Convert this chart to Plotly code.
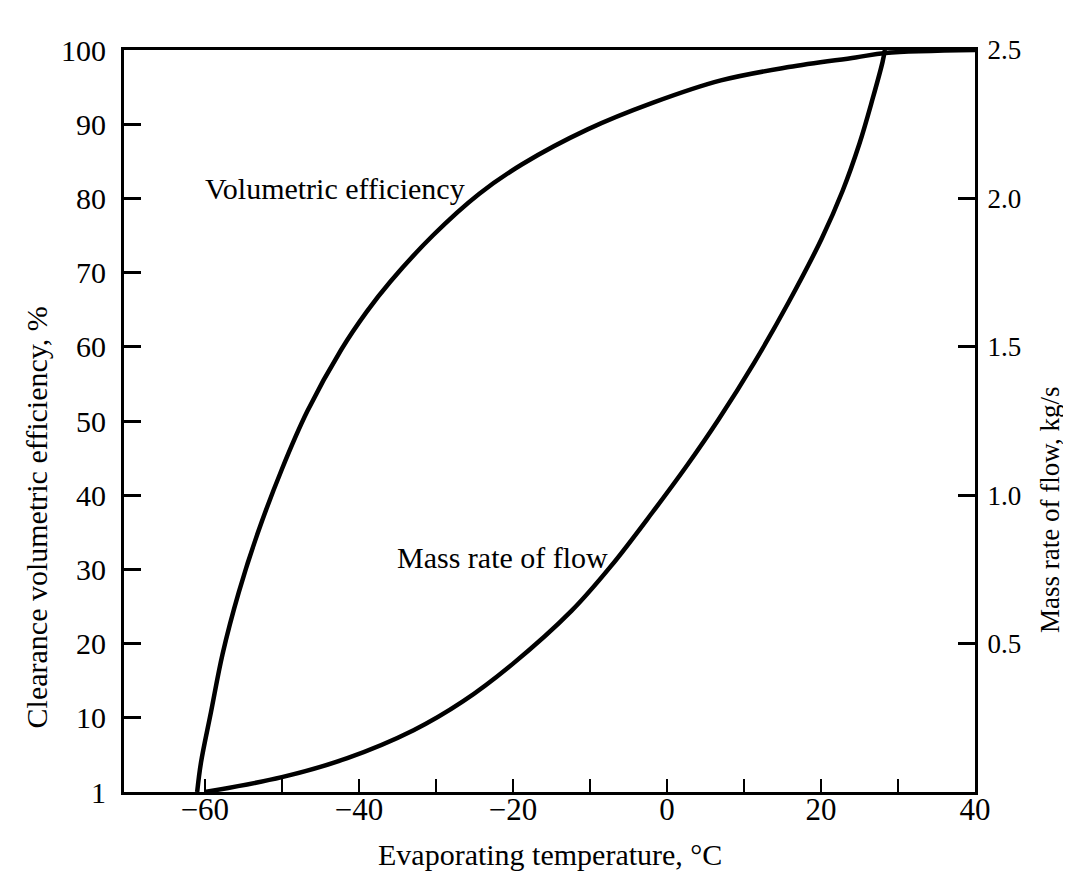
import plotly.graph_objects as go

# ---- data ----
temp_vol = [-61.0, -60.5, -59.2, -57.7, -55.6, -53.1, -50.0, -46.7, -42.3, -39.0,
            -35.9, -30.4, -24.4, -18.8, -10.3, -1.8, 7.0, 15.8, 24.5, 28.4, 40.0]
vol_eff = [0.0, 4.0, 10.8, 18.6, 26.9, 35.0, 43.5, 51.3, 59.6, 64.7,
           68.8, 75.0, 80.6, 84.6, 89.3, 92.9, 95.9, 97.7, 99.0, 99.6, 100.0]

temp_mass = [-60.0, -50.0, -41.5, -32.9, -26.5, -20.1, -12.4, -7.3, -1.8, 2.6,
             6.7, 11.3, 15.8, 20.1, 22.8, 25.0, 26.7, 28.0, 28.3]
mass_flow = [0.0, 0.05, 0.114, 0.208, 0.305, 0.430, 0.610, 0.760, 0.945, 1.100,
             1.255, 1.445, 1.650, 1.865, 2.025, 2.185, 2.335, 2.460, 2.5]

x_tick_vals = [-60, -50, -40, -30, -20, -10, 0, 10, 20, 30, 40]
x_tick_text = ["\u221260", "", "\u221240", "", "\u221220", "", "0", "", "20", "", "40"]
y_tick_vals = [0, 10, 20, 30, 40, 50, 60, 70, 80, 90, 100]
y_tick_text = ["1", "10", "20", "30", "40", "50", "60", "70", "80", "90", "100"]
y2_tick_vals = [0.5, 1.0, 1.5, 2.0, 2.5]
y2_tick_text = ["0.5", "1.0", "1.5", "2.0", "2.5"]

FONT = "Liberation Serif"
fig = go.Figure()
fig.add_trace(go.Scatter(x=temp_vol, y=vol_eff, mode="lines",
                         line=dict(color="black", width=4.5, shape="spline", smoothing=1.0),
                         cliponaxis=False, showlegend=False))
fig.add_trace(go.Scatter(x=temp_mass, y=mass_flow, mode="lines", yaxis="y2",
                         line=dict(color="black", width=4.5, shape="spline", smoothing=1.0),
                         cliponaxis=False, showlegend=False))

axis_common = dict(showgrid=False, zeroline=False, showline=True, linecolor="black",
                   ticks="inside", tickcolor="black", automargin=False)

fig.update_layout(
    width=1071, height=872,
    margin=dict(l=116, r=104, t=42, b=88),
    paper_bgcolor="white", plot_bgcolor="white",
    xaxis=dict(range=[-70.5, 40], tickvals=x_tick_vals, ticktext=x_tick_text,
               ticklen=13, tickwidth=2, linewidth=3, mirror=True,
               ticklabelstandoff=-12,
               tickfont=dict(family=FONT, size=31, color="black"), **axis_common),
    yaxis=dict(range=[0, 100], tickvals=y_tick_vals, ticktext=y_tick_text,
               ticklen=17, tickwidth=2.5, linewidth=3,
               ticklabelstandoff=9,
               tickfont=dict(family=FONT, size=30, color="black"), **axis_common),
    yaxis2=dict(range=[0, 2.5], tickvals=y2_tick_vals, ticktext=y2_tick_text,
                overlaying="y", side="right",
                ticklen=17, tickwidth=2.5, linewidth=3,
                ticklabelstandoff=4,
                tickfont=dict(family=FONT, size=27, color="black"), **axis_common),
    annotations=[
        dict(text="Volumetric efficiency", x=-60.2, y=81.3, xref="x", yref="y",
             xanchor="left", yanchor="middle", showarrow=False,
             font=dict(family=FONT, size=30, color="black")),
        dict(text="Mass rate of flow", x=-35.3, y=31.6, xref="x", yref="y",
             xanchor="left", yanchor="middle", showarrow=False,
             font=dict(family=FONT, size=30, color="black")),
        dict(text="Evaporating temperature, \u00b0C", x=0.5, y=0, xref="paper", yref="paper",
             xanchor="center", yanchor="middle", yshift=-62, showarrow=False,
             font=dict(family=FONT, size=30, color="black")),
        dict(text="Clearance volumetric efficiency, %", x=0, y=0.37, xref="paper", yref="paper",
             xanchor="center", yanchor="middle", xshift=-88, textangle=-90, showarrow=False,
             font=dict(family=FONT, size=30, color="black")),
        dict(text="Mass rate of flow, kg/s", x=1, y=0.38, xref="paper", yref="paper",
             xanchor="center", yanchor="middle", xshift=75, textangle=-90, showarrow=False,
             font=dict(family=FONT, size=27, color="black")),
    ],
)

fig.write_html("out.html")
